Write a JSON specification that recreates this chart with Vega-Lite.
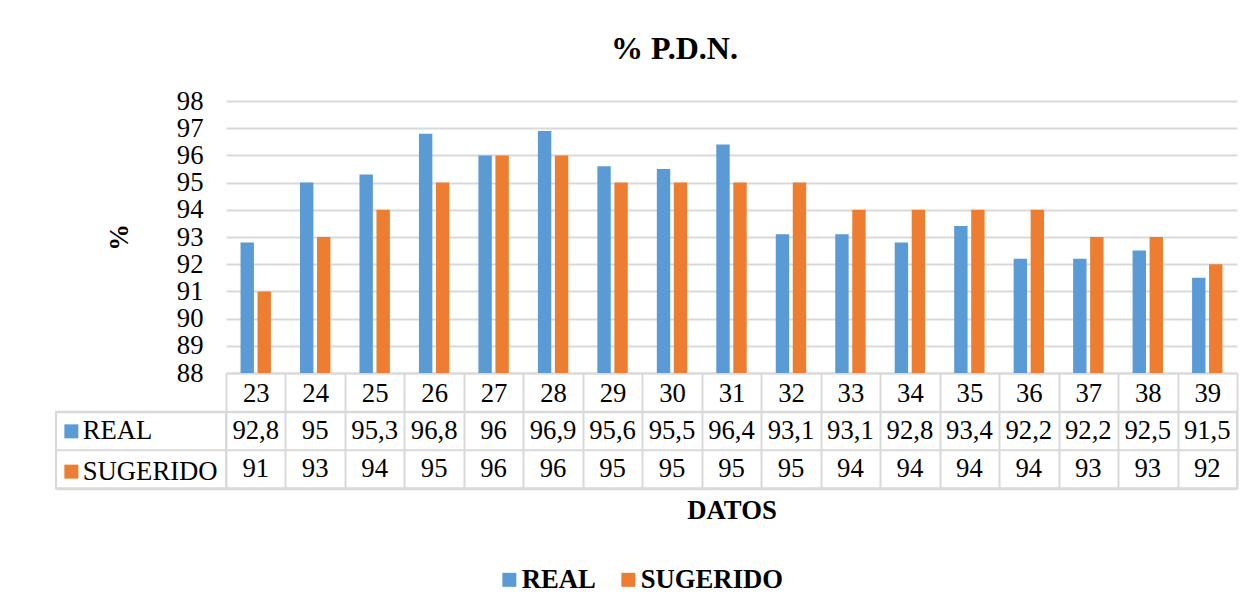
{
  "$schema": "https://vega.github.io/schema/vega-lite/v6.json",
  "padding": {"left": 55, "top": 33, "right": 5, "bottom": 5},
  "bounds": "flush",
  "columns": 2,
  "spacing": {"row": 38.7, "column": 0},
  "title": {"text": "% P.D.N.", "fontSize": 32, "fontWeight": "bold", "font": "Liberation Serif", "color": "#000000", "anchor": "middle", "offset": 22, "dx": 28},
  "data": {
    "values": [
      {"dato": 23, "serie": "REAL", "valor": 92.8}, {"dato": 23, "serie": "SUGERIDO", "valor": 91},
      {"dato": 24, "serie": "REAL", "valor": 95}, {"dato": 24, "serie": "SUGERIDO", "valor": 93},
      {"dato": 25, "serie": "REAL", "valor": 95.3}, {"dato": 25, "serie": "SUGERIDO", "valor": 94},
      {"dato": 26, "serie": "REAL", "valor": 96.8}, {"dato": 26, "serie": "SUGERIDO", "valor": 95},
      {"dato": 27, "serie": "REAL", "valor": 96}, {"dato": 27, "serie": "SUGERIDO", "valor": 96},
      {"dato": 28, "serie": "REAL", "valor": 96.9}, {"dato": 28, "serie": "SUGERIDO", "valor": 96},
      {"dato": 29, "serie": "REAL", "valor": 95.6}, {"dato": 29, "serie": "SUGERIDO", "valor": 95},
      {"dato": 30, "serie": "REAL", "valor": 95.5}, {"dato": 30, "serie": "SUGERIDO", "valor": 95},
      {"dato": 31, "serie": "REAL", "valor": 96.4}, {"dato": 31, "serie": "SUGERIDO", "valor": 95},
      {"dato": 32, "serie": "REAL", "valor": 93.1}, {"dato": 32, "serie": "SUGERIDO", "valor": 95},
      {"dato": 33, "serie": "REAL", "valor": 93.1}, {"dato": 33, "serie": "SUGERIDO", "valor": 94},
      {"dato": 34, "serie": "REAL", "valor": 92.8}, {"dato": 34, "serie": "SUGERIDO", "valor": 94},
      {"dato": 35, "serie": "REAL", "valor": 93.4}, {"dato": 35, "serie": "SUGERIDO", "valor": 94},
      {"dato": 36, "serie": "REAL", "valor": 92.2}, {"dato": 36, "serie": "SUGERIDO", "valor": 94},
      {"dato": 37, "serie": "REAL", "valor": 92.2}, {"dato": 37, "serie": "SUGERIDO", "valor": 93},
      {"dato": 38, "serie": "REAL", "valor": 92.5}, {"dato": 38, "serie": "SUGERIDO", "valor": 93},
      {"dato": 39, "serie": "REAL", "valor": 91.5}, {"dato": 39, "serie": "SUGERIDO", "valor": 92}
    ]
  },
  "resolve": {"legend": {"color": "independent"}, "scale": {"x": "independent", "y": "independent"}},
  "concat": [
    {
      "width": 170, "height": 272,
      "data": {"values": [{}]},
      "mark": {"type": "text"},
      "encoding": {"text": {"value": ""}},
      "view": {"stroke": null}
    },
    {
      "width": 1011, "height": 272,
      "mark": {"type": "bar"},
      "encoding": {
        "x": {
          "field": "dato", "type": "ordinal",
          "scale": {"type": "band", "paddingInner": 0, "paddingOuter": 0},
          "axis": {"title": null, "labelAngle": 0, "domain": true, "domainColor": "#D9D9D9", "domainWidth": 2,
                   "ticks": true, "tickBand": "extent", "tickSize": 38.7, "tickColor": "#D9D9D9", "tickWidth": 2,
                   "labelBaseline": "middle", "labelPadding": -17.8, "labelFontSize": 26.7, "grid": false}
        },
        "xOffset": {"field": "serie", "type": "nominal", "scale": {"paddingInner": 0.212, "paddingOuter": 0.855}},
        "y": {
          "field": "valor", "type": "quantitative",
          "scale": {"domain": [88, 98], "zero": false, "nice": false},
          "axis": {"title": "%", "tickCount": 10, "grid": true, "gridColor": "#D9D9D9", "gridWidth": 2,
                   "domain": false, "ticks": false, "labelPadding": 23, "labelFontSize": 26.7,
                   "titleFontSize": 26.7, "titleFontWeight": "bold", "titlePadding": 43}
        },
        "y2": {"datum": 88},
        "color": {
          "field": "serie", "type": "nominal",
          "scale": {"domain": ["REAL", "SUGERIDO"], "range": ["#5B9BD5", "#ED7D31"]},
          "legend": {"orient": "none", "legendX": 270, "legendY": 465, "direction": "horizontal", "title": null,
                     "symbolType": "square", "symbolSize": 196, "symbolStrokeWidth": 0,
                     "labelFontSize": 26.7, "labelFontWeight": "bold", "labelFont": "Liberation Serif",
                     "labelColor": "#000000", "columnPadding": 19, "labelOffset": -1, "labelLimit": 400}
        }
      },
      "view": {"stroke": null}
    },
    {
      "width": 170, "height": 76.6,
      "mark": {"type": "text"},
      "encoding": {
        "y": {
          "field": "serie", "type": "nominal",
          "scale": {"type": "band", "paddingInner": 0, "paddingOuter": 0},
          "axis": {"title": null, "labels": false, "ticks": false, "domain": false, "grid": true,
                   "tickBand": "extent", "gridColor": "#D9D9D9", "gridWidth": 2}
        },
        "color": {
          "field": "serie", "type": "nominal",
          "scale": {"domain": ["REAL", "SUGERIDO"], "range": ["#5B9BD5", "#ED7D31"]},
          "legend": {"orient": "none", "legendX": 2, "legendY": 6.3, "direction": "vertical", "title": null,
                     "symbolType": "square", "symbolSize": 196, "symbolStrokeWidth": 0, "symbolOpacity": 1,
                     "labelFontSize": 26.7, "labelFont": "Liberation Serif", "labelColor": "#000000",
                     "rowPadding": 12.3, "labelOffset": -2, "labelLimit": 400}
        },
        "text": {"value": ""}
      },
      "view": {"stroke": "#D9D9D9", "strokeWidth": 2}
    },
    {
      "width": 1011, "height": 76.6,
      "mark": {"type": "text", "fontSize": 26.7, "font": "Liberation Serif", "color": "#000000"},
      "encoding": {
        "x": {
          "field": "dato", "type": "ordinal",
          "scale": {"type": "band", "paddingInner": 0, "paddingOuter": 0},
          "axis": {"title": "DATOS", "labels": false, "ticks": false, "domain": false, "grid": true,
                   "tickBand": "extent", "gridColor": "#D9D9D9", "gridWidth": 2,
                   "titleFontSize": 26.7, "titleFontWeight": "bold", "titlePadding": 9}
        },
        "y": {
          "field": "serie", "type": "nominal",
          "scale": {"type": "band", "paddingInner": 0, "paddingOuter": 0},
          "axis": {"title": null, "labels": false, "ticks": false, "domain": false, "grid": true,
                   "tickBand": "extent", "gridColor": "#D9D9D9", "gridWidth": 2}
        },
        "text": {"field": "valor", "type": "quantitative", "format": ".1~f"}
      },
      "view": {"stroke": "#D9D9D9", "strokeWidth": 2}
    }
  ],
  "config": {
    "font": "Liberation Serif",
    "locale": {"number": {"decimal": ",", "thousands": ".", "grouping": [3], "currency": ["", " €"]}},
    "axis": {"labelFont": "Liberation Serif", "titleFont": "Liberation Serif", "labelColor": "#000000", "titleColor": "#000000"},
    "legend": {"labelFont": "Liberation Serif"}
  }
}
